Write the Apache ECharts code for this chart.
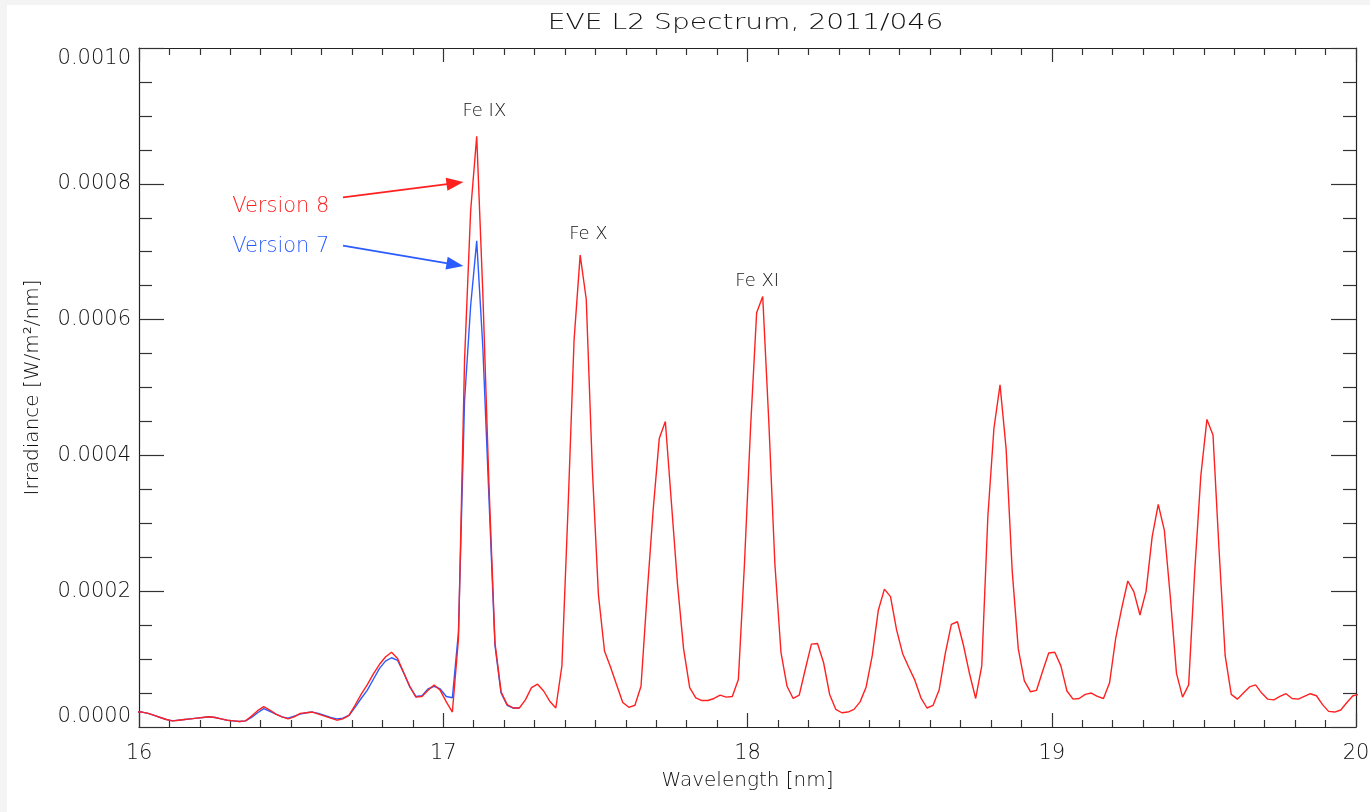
<!DOCTYPE html>
<html>
<head>
<meta charset="utf-8">
<title>EVE L2 Spectrum, 2011/046</title>
<script src="https://cdn.jsdelivr.net/npm/echarts@6/dist/echarts.min.js"></script>
<style>
html, body { margin: 0; padding: 0; background: #f4f4f4; }
#main { position: absolute; left: 7px; top: 5px; width: 1363px; height: 807px; background: #fff; }
</style>
</head>
<body>
<div id="main"></div>
<script>
// wavelength bins [nm], 0.02 nm spacing
var wavelength = [
  15.99, 16.01, 16.03, 16.05, 16.07, 16.09, 16.11, 16.13, 16.15, 16.17,
  16.19, 16.21, 16.23, 16.25, 16.27, 16.29, 16.31, 16.33, 16.35, 16.37,
  16.39, 16.41, 16.43, 16.45, 16.47, 16.49, 16.51, 16.53, 16.55, 16.57,
  16.59, 16.61, 16.63, 16.65, 16.67, 16.69, 16.71, 16.73, 16.75, 16.77,
  16.79, 16.81, 16.83, 16.85, 16.87, 16.89, 16.91, 16.93, 16.95, 16.97,
  16.99, 17.01, 17.03, 17.05, 17.07, 17.09, 17.11, 17.13, 17.15, 17.17,
  17.19, 17.21, 17.23, 17.25, 17.27, 17.29, 17.31, 17.33, 17.35, 17.37,
  17.39, 17.41, 17.43, 17.45, 17.47, 17.49, 17.51, 17.53, 17.55, 17.57,
  17.59, 17.61, 17.63, 17.65, 17.67, 17.69, 17.71, 17.73, 17.75, 17.77,
  17.79, 17.81, 17.83, 17.85, 17.87, 17.89, 17.91, 17.93, 17.95, 17.97,
  17.99, 18.01, 18.03, 18.05, 18.07, 18.09, 18.11, 18.13, 18.15, 18.17,
  18.19, 18.21, 18.23, 18.25, 18.27, 18.29, 18.31, 18.33, 18.35, 18.37,
  18.39, 18.41, 18.43, 18.45, 18.47, 18.49, 18.51, 18.53, 18.55, 18.57,
  18.59, 18.61, 18.63, 18.65, 18.67, 18.69, 18.71, 18.73, 18.75, 18.77,
  18.79, 18.81, 18.83, 18.85, 18.87, 18.89, 18.91, 18.93, 18.95, 18.97,
  18.99, 19.01, 19.03, 19.05, 19.07, 19.09, 19.11, 19.13, 19.15, 19.17,
  19.19, 19.21, 19.23, 19.25, 19.27, 19.29, 19.31, 19.33, 19.35, 19.37,
  19.39, 19.41, 19.43, 19.45, 19.47, 19.49, 19.51, 19.53, 19.55, 19.57,
  19.59, 19.61, 19.63, 19.65, 19.67, 19.69, 19.71, 19.73, 19.75, 19.77,
  19.79, 19.81, 19.83, 19.85, 19.87, 19.89, 19.91, 19.93, 19.95, 19.97,
  19.99, 20.01
];

// irradiance, units of 1e-5 W/m^2/nm
var version8 = [
  2.2, 2.2, 2.0, 1.7, 1.4, 1.1, 0.9, 1.0, 1.1, 1.2,
  1.3, 1.4, 1.5, 1.4, 1.2, 1.0, 0.9, 0.8, 0.9, 1.6,
  2.4, 3.0, 2.5, 1.9, 1.5, 1.2, 1.5, 2.0, 2.1, 2.2,
  1.9, 1.6, 1.3, 1.0, 1.2, 1.7, 3.2, 4.8, 6.2, 7.8,
  9.2, 10.3, 11.0, 10.1, 8.0, 6.0, 4.4, 4.5, 5.4, 6.2,
  5.4, 3.7, 2.2, 13.0, 54.0, 76.0, 87.0, 64.0, 36.0, 12.4,
  5.2, 3.3, 2.8, 2.8, 4.0, 5.8, 6.3, 5.3, 3.8, 2.8,
  9.0, 32.0, 57.0, 69.5, 63.0, 38.0, 19.5, 11.2, 8.8, 6.2,
  3.6, 2.9, 3.2, 6.0, 19.5, 32.0, 42.5, 45.0, 33.0, 21.0,
  11.5, 5.8, 4.3, 3.9, 3.9, 4.2, 4.7, 4.4, 4.5, 7.0,
  24.0, 44.0, 61.0, 63.4, 45.0, 24.0, 11.0, 6.0, 4.2, 4.7,
  8.5, 12.2, 12.3, 9.5, 4.8, 2.6, 2.1, 2.2, 2.6, 3.7,
  5.9, 10.5, 17.2, 20.3, 19.2, 14.3, 10.8, 8.8, 6.9, 4.3,
  2.8, 3.2, 5.5, 10.8, 15.1, 15.5, 12.0, 7.8, 4.2, 9.0,
  31.0, 44.0, 50.4, 41.0, 23.0, 11.5, 6.8, 5.2, 5.4, 8.2,
  10.9, 11.0, 9.0, 5.3, 4.1, 4.2, 4.8, 5.0, 4.5, 4.2,
  6.5, 13.0, 17.5, 21.5, 19.9, 16.5, 20.0, 28.0, 32.8, 29.0,
  19.0, 7.9, 4.4, 6.2, 23.0, 37.0, 45.3, 43.0, 26.0, 10.5,
  4.8, 4.1, 5.0, 5.9, 6.2, 5.0, 4.1, 4.0, 4.5, 4.9,
  4.2, 4.1, 4.5, 4.9, 4.6, 3.3, 2.3, 2.2, 2.5, 3.6,
  4.6, 4.8
];

// version 7 only covers 15.99 - 17.25 nm
var version7 = [
  2.2, 2.2, 2.0, 1.7, 1.4, 1.1, 0.9, 1.0, 1.1, 1.2,
  1.3, 1.4, 1.5, 1.4, 1.2, 1.0, 0.9, 0.8, 0.9, 1.4,
  2.1, 2.7, 2.3, 1.9, 1.5, 1.3, 1.6, 1.9, 2.1, 2.2,
  2.0, 1.7, 1.4, 1.2, 1.3, 1.7, 2.9, 4.2, 5.4, 7.0,
  8.6, 9.7, 10.2, 9.8, 8.0, 5.9, 4.5, 4.6, 5.6, 6.0,
  5.6, 4.5, 4.3, 14.0, 48.0, 62.0, 71.6, 56.0, 34.0, 12.0,
  5.0, 3.2, 2.8, 2.8
];

var xTicks = [16, 20, 1];
var yTicks = [0, 0.001, 0.0002];

// annotations
var lineNames = ['Fe IX', 'Fe X', 'Fe XI'];
var lineNamePos = [[17.135, 0.000906], [17.477, 0.000726], [18.032, 0.000656]];
var versionNames = ['Version 8', 'Version 7'];
var versionNamePos = [[16.466, 0.000767], [16.466, 0.000707]];
var arrow8 = [[16.6705, 0.00078], [17.0386, 0.000801]];
var arrow7 = [[16.6705, 0.000709], [17.0386, 0.000681]];

var FONT = 'DejaVu Sans';
var INK = '#111';
var RED = '#ff2020';
var BLUE = '#2c5cff';

function pairs(vals) {
  var out = [];
  for (var i = 0; i < vals.length; i++) out.push([wavelength[i], vals[i] * 1e-5]);
  return out;
}

function xAxisDef(pos, withLabels) {
  return {
    type: 'value', position: pos,
    min: xTicks[0], max: xTicks[1], interval: xTicks[2],
    axisLine: { show: true, onZero: false, lineStyle: { color: '#222', width: 1.2 } },
    axisTick: { show: true, inside: true, length: 14, lineStyle: { color: '#333', width: 1.2 } },
    minorTick: { show: true, splitNumber: 10, length: 7, lineStyle: { color: '#333', width: 1.2 } },
    splitLine: { show: false },
    axisLabel: { show: withLabels, margin: 16, fontSize: 21, color: INK, fontFamily: FONT, fontWeight: 200,
                 showMinLabel: true, showMaxLabel: true },
    name: withLabels ? 'Wavelength [nm]' : '',
    nameLocation: 'middle', nameGap: 44,
    nameTextStyle: { fontSize: 20, color: INK, fontFamily: FONT, fontWeight: 200 }
  };
}

function yAxisDef(pos, withLabels) {
  return {
    type: 'value', position: pos,
    min: yTicks[0], max: yTicks[1], interval: yTicks[2],
    axisLine: { show: true, onZero: false, lineStyle: { color: '#222', width: 1.2 } },
    axisTick: { show: true, inside: true, length: 25, lineStyle: { color: '#333', width: 1.2 } },
    minorTick: { show: true, splitNumber: 4, length: 13, lineStyle: { color: '#333', width: 1.2 } },
    splitLine: { show: false },
    axisLabel: { show: withLabels, margin: 8, fontSize: 21, color: INK, fontFamily: FONT, fontWeight: 200,
                 showMinLabel: true, showMaxLabel: true,
                 verticalAlignMaxLabel: 'top', verticalAlignMinLabel: 'bottom',
                 formatter: function (v) { return v.toFixed(4); } },
    name: withLabels ? 'Irradiance [W/m²/nm]' : '',
    nameLocation: 'middle', nameGap: 96,
    nameTextStyle: { fontSize: 20, color: INK, fontFamily: FONT, fontWeight: 200 }
  };
}

function textMarks(names, pos, color, size) {
  return {
    symbol: 'circle', symbolSize: 0, silent: true, animation: false,
    label: { show: true, position: 'inside', formatter: '{b}', color: color,
             fontSize: size, fontFamily: FONT, fontWeight: 200 },
    data: names.map(function (n, i) { return { name: n, coord: pos[i] }; })
  };
}

function arrowMark(seg, color) {
  return {
    silent: true, animation: false,
    symbol: ['none', 'triangle'], symbolSize: [13, 17],
    label: { show: false },
    lineStyle: { type: 'solid', color: color, width: 1.8 },
    emphasis: { disabled: true },
    data: [[{ coord: seg[0] }, { coord: seg[1] }]]
  };
}

var chart = echarts.init(document.getElementById('main'));
chart.setOption({
  animation: false,
  backgroundColor: '#fff',
  grid: { left: 132, top: 43, right: 14, bottom: 85, containLabel: false, outerBoundsMode: 'none' },
  graphic: [{
    type: 'text', x: 738.5, y: 18, scaleX: 1.28,
    style: { text: 'EVE L2 Spectrum, 2011/046', fill: INK, fontSize: 22, fontFamily: FONT,
             fontWeight: 200, textAlign: 'center', textVerticalAlign: 'middle' }
  }],
  xAxis: [xAxisDef('bottom', true), xAxisDef('top', false)],
  yAxis: [yAxisDef('left', true), yAxisDef('right', false)],
  series: [{
    name: 'Version 7', type: 'line', data: pairs(version7),
    showSymbol: false, symbol: 'none', z: 2,
    lineStyle: { color: BLUE, width: 1.4 },
    markLine: arrowMark(arrow7, BLUE),
    markPoint: textMarks([versionNames[1]], [versionNamePos[1]], BLUE, 21)
  }, {
    name: 'Version 8', type: 'line', data: pairs(version8),
    showSymbol: false, symbol: 'none', z: 3,
    lineStyle: { color: RED, width: 1.4 },
    markLine: arrowMark(arrow8, RED),
    markPoint: {
      symbol: 'circle', symbolSize: 0, silent: true, animation: false,
      label: { show: true, position: 'inside', formatter: '{b}', fontFamily: FONT, fontWeight: 200 },
      data: lineNames.map(function (n, i) {
        return { name: n, coord: lineNamePos[i], label: { color: INK, fontSize: 18 } };
      }).concat([{ name: versionNames[0], coord: versionNamePos[0], label: { color: RED, fontSize: 21 } }])
    }
  }]
});
</script>
</body>
</html>
